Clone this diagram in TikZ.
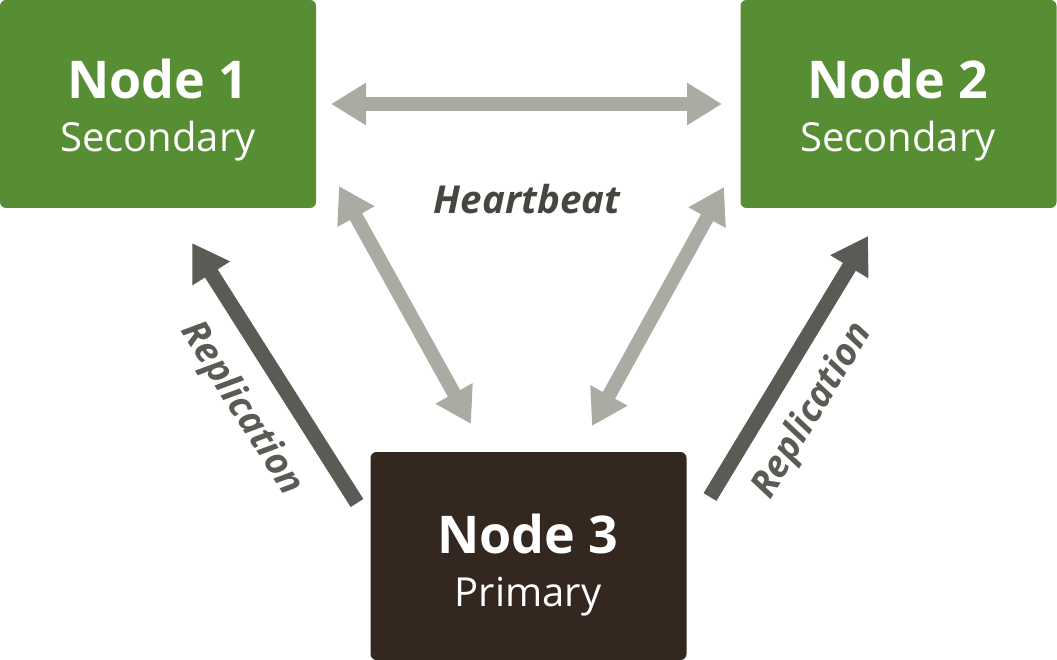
\documentclass[tikz,border=0pt]{standalone}
\usepackage{fontspec}
\setmainfont{Open Sans}
\usetikzlibrary{arrows.meta}
\definecolor{secgreen}{RGB}{87,142,51}
\definecolor{primbrown}{RGB}{51,39,31}
\definecolor{hbgray}{RGB}{170,171,163}
\definecolor{repgray}{RGB}{91,90,85}
\definecolor{hbtext}{RGB}{70,70,65}
\tikzset{
  box/.style={rounded corners=6pt, inner sep=0pt, minimum width=316pt, minimum height=208pt},
  secbox/.style={box, fill=secgreen},
  primbox/.style={box, fill=primbrown},
  title/.style={anchor=base, text=white, font=\fontsize{52}{58}\selectfont\bfseries, inner sep=0pt},
  subtitle/.style={anchor=base, text=white, font=\fontsize{40}{46}\selectfont, inner sep=0pt},
  hbarrow/.style={draw=hbgray, line width=14pt, {Triangle[length=35pt,width=40pt]}-{Triangle[length=35pt,width=40pt]}},
  reparrow/.style={draw=repgray, line width=15pt, -{Triangle[length=36pt,width=42pt]}},
  replabel/.style={text=repgray, font=\fontsize{37}{43}\selectfont\bfseries\itshape, inner sep=0pt},
}
\begin{document}
\begin{tikzpicture}[x=1pt,y=-1pt]
\useasboundingbox (0,0) rectangle (1057,660);
% boxes
\node[secbox] (n1) at (158,104) {};
\node[secbox] (n2) at (898.5,104) {};
\node[primbox] (n3) at (528.5,556) {};
% texts
\node[title] (t1) at (158,99) {Node 1};
\node[subtitle] (s1) at (158,152) {Secondary};
\node[title] (t2) at (898,99) {Node 2};
\node[subtitle] (s2) at (898,152) {Secondary};
\node[title] (t3) at (528,553) {Node 3};
\node[subtitle] (s3) at (528,606) {Primary};
% heartbeat arrows
\coordinate (h1a) at (331,104);
\coordinate (h1b) at (722,104);
\coordinate (h2a) at (339,186);
\coordinate (h2b) at (471,424);
\coordinate (h3a) at (724,187);
\coordinate (h3b) at (592,426);
\draw[hbarrow] (h1a) -- (h1b);
\draw[hbarrow] (h2a) -- (h2b);
\draw[hbarrow] (h3a) -- (h3b);
\node[text=hbtext, font=\fontsize{38.5}{44}\selectfont\bfseries\itshape, inner sep=0pt] (hb) at (527,199) {Heartbeat};
% replication arrows
\coordinate (r1a) at (357,503);
\coordinate (r1b) at (192,243);
\coordinate (r2a) at (710,497);
\coordinate (r2b) at (868,236);
\draw[reparrow] (r1a) -- (r1b);
\draw[reparrow] (r2a) -- (r2b);
\node[replabel, rotate=-57.6] (rl1) at (241,409) {Replication};
\node[replabel, rotate=58.8] (rl2) at (813,411) {Replication};
\end{tikzpicture}
\end{document}
